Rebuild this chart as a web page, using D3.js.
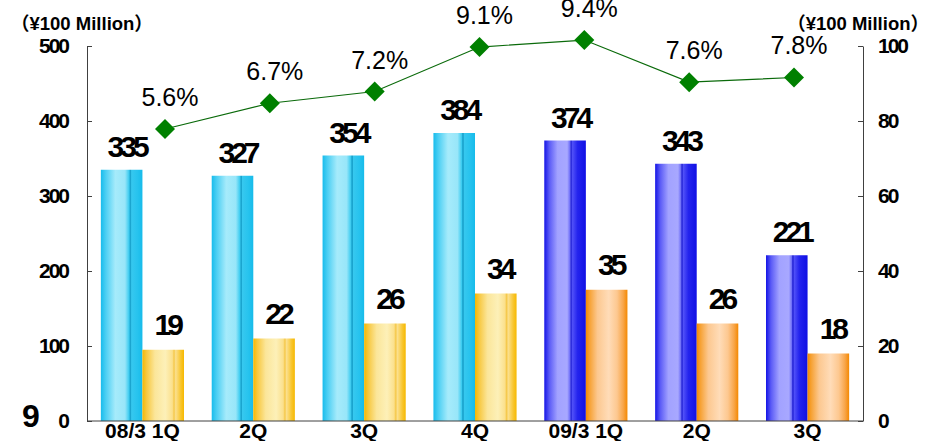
<!DOCTYPE html>
<html>
<head>
<meta charset="utf-8">
<script src="https://cdn.jsdelivr.net/npm/d3@7"></script>
<style>
  body { margin: 0; background: #fff; }
  svg { display: block; }
</style>
</head>
<body>
<div id="chart"></div>
<script>
(function () {

    // data
    var categories = ["08/3 1Q", "2Q", "3Q", "4Q", "09/3 1Q", "2Q ", "3Q "];
    var fiscalYear = ["08/3", "08/3", "08/3", "08/3", "09/3", "09/3", "09/3"];
    var revenue = [335, 327, 354, 384, 374, 343, 221];
    var opIncome = [19, 22, 26, 34, 35, 26, 18];
    var margin = [5.6, 6.7, 7.2, 9.1, 9.4, 7.6, 7.8];
    var leftTicks = [0, 100, 200, 300, 400, 500];
    var rightTicks = [0, 20, 40, 60, 80, 100];

    var width = 930, height = 441;
    var plot = {left: 87, right: 863, top: 46, bottom: 421};

    var svg = d3.select("#chart").append("svg")
        .attr("width", width)
        .attr("height", height);

    var font = "'Liberation Sans', Arial, sans-serif";

    // gradients
    var defs = svg.append("defs");
    function grad(id, stops) {
        var g = defs.append("linearGradient").attr("id", id)
            .attr("x1", "0%").attr("x2", "100%").attr("y1", "0%").attr("y2", "0%");
        stops.forEach(function (s) {
            g.append("stop").attr("offset", s[0] + "%").attr("stop-color", s[1]);
        });
    }
    grad("g-cyan", [[0, "#18bcec"], [12, "#4ccff3"], [35, "#a6ebfb"], [58, "#98e6f9"], [68, "#3acbf0"],
        [70, "#1da8d2"], [72, "#1aa4ce"], [74, "#36c8ef"], [88, "#27c3ee"], [100, "#16bbea"]]);
    grad("g-blue", [[0, "#1414e6"], [12, "#5a5af6"], [32, "#a2a2ff"], [55, "#a8a8ff"], [62, "#6c6cf8"],
        [64, "#2a2ad8"], [66, "#3030e0"], [68, "#5050f8"], [80, "#2424ee"], [100, "#1010e4"]]);
    grad("g-yellow", [[0, "#f6b800"], [10, "#f7c840"], [30, "#fbe69a"], [55, "#fdf0b8"], [72, "#fbe08c"],
        [76, "#f5c84a"], [80, "#fbe08e"], [92, "#f8c630"], [100, "#f6b800"]]);
    grad("g-orange", [[0, "#f48a00"], [8, "#f6a030"], [28, "#fcc890"], [55, "#ffdcb8"], [75, "#fdc890"],
        [90, "#f8a548"], [100, "#f48800"]]);

    // scales
    var x = d3.scaleBand().domain(categories)
        .range([plot.left, plot.right]).paddingInner(0.25).paddingOuter(0.125);
    var x1 = d3.scaleBand().domain(["rev", "op"]).range([0, x.bandwidth()]);
    var yL = d3.scaleLinear().domain([0, 500]).range([plot.bottom, plot.top]);
    var yR = d3.scaleLinear().domain([0, 100]).range([plot.bottom, plot.top]);
    var xLine = d3.scalePoint().domain(categories).range([165, 794]);
    var yPct = d3.scaleLinear().domain([5, 10]).range([143, 26]);

    // bars
    var groups = svg.selectAll(".grp")
        .data(categories)
        .enter().append("g")
        .attr("class", "grp")
        .attr("transform", function (d) { return "translate(" + x(d) + ",0)"; });

    groups.append("rect")
        .attr("x", x1("rev"))
        .attr("width", x1.bandwidth())
        .attr("y", function (d, i) { return yL(revenue[i]); })
        .attr("height", function (d, i) { return plot.bottom - yL(revenue[i]); })
        .attr("fill", function (d, i) { return fiscalYear[i] === "08/3" ? "url(#g-cyan)" : "url(#g-blue)"; });

    groups.append("rect")
        .attr("x", x1("op"))
        .attr("width", x1.bandwidth())
        .attr("y", function (d, i) { return yR(opIncome[i]); })
        .attr("height", function (d, i) { return plot.bottom - yR(opIncome[i]); })
        .attr("fill", function (d, i) { return fiscalYear[i] === "08/3" ? "url(#g-yellow)" : "url(#g-orange)"; });

    // bar value labels
    var barLabel = function (sel) {
        sel.attr("text-anchor", "middle")
            .attr("font-family", font)
            .attr("font-weight", "bold")
            .attr("font-size", "30px")
            .attr("letter-spacing", "-4px")
            .attr("fill", "#000");
    };
    groups.append("text")
        .attr("x", x1("rev") + x1.bandwidth() / 2 + 5)
        .attr("y", function (d, i) { return yL(revenue[i]) - 13; })
        .call(barLabel)
        .text(function (d, i) { return revenue[i]; });
    groups.append("text")
        .attr("x", x1("op") + x1.bandwidth() / 2 + 4)
        .attr("y", function (d, i) { return yR(opIncome[i]) - 15; })
        .call(barLabel)
        .text(function (d, i) { return opIncome[i]; });

    // axes
    var axisColor = "#404040";
    var gL = svg.append("g")
        .attr("transform", "translate(" + plot.left + ",0)")
        .call(d3.axisLeft(yL).tickValues(leftTicks).tickSizeInner(-5).tickSizeOuter(0).tickPadding(17));
    var gR = svg.append("g")
        .attr("transform", "translate(" + plot.right + ",0)")
        .call(d3.axisRight(yR).tickValues(rightTicks).tickSizeInner(-5).tickSizeOuter(0).tickPadding(15));
    [gL, gR].forEach(function (g) {
        g.select(".domain").attr("stroke", axisColor);
        g.selectAll(".tick line").attr("stroke", axisColor);
        g.selectAll(".tick text")
            .attr("font-family", font)
            .attr("font-weight", "bold")
            .attr("font-size", "21px")
            .attr("letter-spacing", "-2px")
            .attr("fill", "#000");
    });
    gL.selectAll(".tick text").attr("dx", "-2px");

    svg.append("line")
        .attr("x1", plot.left).attr("x2", plot.right)
        .attr("y1", plot.bottom).attr("y2", plot.bottom)
        .attr("stroke", axisColor);

    // category labels
    svg.selectAll(".cat")
        .data(categories)
        .enter().append("text")
        .attr("class", "cat")
        .attr("x", function (d) { return x(d) + x.bandwidth() / 2; })
        .attr("y", 438)
        .attr("text-anchor", "middle")
        .attr("font-family", font)
        .attr("font-weight", "bold")
        .attr("font-size", "21px")
        .text(function (d) { return d.trim(); });

    // margin line
    var line = d3.line()
        .x(function (d, i) { return xLine(categories[i]); })
        .y(function (d) { return yPct(d); });
    svg.append("path")
        .attr("d", line(margin))
        .attr("fill", "none")
        .attr("stroke", "#0a6a0a")
        .attr("stroke-width", 1.2);

    var sym = d3.symbol(d3.symbolSquare, 200);
    svg.selectAll(".dia")
        .data(margin)
        .enter().append("path")
        .attr("class", "dia")
        .attr("d", sym)
        .attr("fill", "#008000")
        .attr("transform", function (d, i) {
            return "translate(" + xLine(categories[i]) + "," + yPct(d) + ") rotate(45)";
        });

    svg.selectAll(".pct")
        .data(margin)
        .enter().append("text")
        .attr("class", "pct")
        .attr("x", function (d, i) { return xLine(categories[i]) + 5; })
        .attr("y", function (d) { return yPct(d) - 23; })
        .attr("text-anchor", "middle")
        .attr("font-family", font)
        .attr("font-size", "25px")
        .attr("fill", "#000")
        .text(function (d) { return d.toFixed(1) + "%"; });

    // unit labels
    var unitFont = font + ", 'Noto Sans CJK JP'";
    svg.append("text")
        .attr("x", 11).attr("y", 30)
        .attr("font-family", unitFont)
        .attr("font-weight", "bold")
        .attr("font-size", "18.5px")
        .text("（¥100 Million）");
    svg.append("text")
        .attr("x", 929).attr("y", 30)
        .attr("text-anchor", "end")
        .attr("font-family", unitFont)
        .attr("font-weight", "bold")
        .attr("font-size", "18.5px")
        .text("（¥100 Million）");

    // page number
    svg.append("text")
        .attr("x", 22).attr("y", 427)
        .attr("font-family", font)
        .attr("font-weight", "bold")
        .attr("font-size", "32px")
        .text("9");

})();
</script>
</body>
</html>
